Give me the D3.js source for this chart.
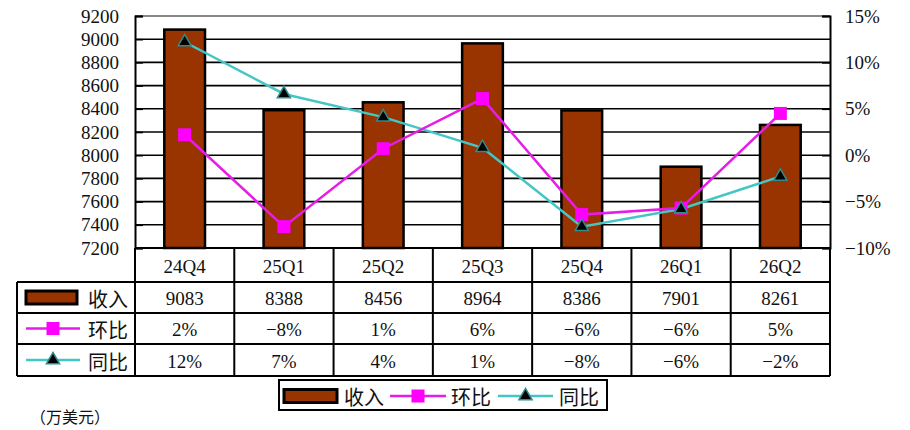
<!DOCTYPE html>
<html>
<head>
<meta charset="utf-8">
<script src="https://cdn.jsdelivr.net/npm/d3@7"></script>
<style>
    body { margin: 0; background: #fff; }
    text { font-family: "Liberation Serif", "Noto Sans CJK SC", serif; fill: #111; }
    .cjk { font-family: "Noto Sans CJK SC", sans-serif; }
</style>
</head>
<body>
<div id="chart"></div>
<script>
"use strict";

// Data
var quarters = ["24Q4", "25Q1", "25Q2", "25Q3", "25Q4", "26Q1", "26Q2"];
var revenue = [9083, 8388, 8456, 8964, 8386, 7901, 8261];
var qoq = [2.2, -7.7, 0.7, 6.1, -6.4, -5.7, 4.5];     // 环比 (%)
var yoy = [12.2, 6.6, 4.1, 0.8, -7.7, -5.8, -2.3];    // 同比 (%)
var leftTicks = [7200, 7400, 7600, 7800, 8000, 8200, 8400, 8600, 8800, 9000, 9200];
var rightTicks = [-10, -5, 0, 5, 10, 15];

const BAR_COLOR = "#993300";
const QOQ_COLOR = "#FF00FF";
const QOQ_LINE = "#E81CE8";
const YOY_LINE = "#45C6C6";
const YOY_EDGE = "#2E8C8C";

function renderChart(){

    var W = 910, H = 430;
    var plot = { left: 135, right: 830, top: 16, bottom: 248 };
    var rows = [248, 282, 313, 344, 376];
    var tableLeft = 17;

    var svg = d3.select("#chart").append("svg")
        .attr("width", W)
        .attr("height", H);

    // Scales
    var xScale = d3.scaleBand().domain(quarters).range([plot.left, plot.right]);
    var yLeft = d3.scaleLinear().domain([7200, 9200]).range([plot.bottom, plot.top]);
    var yRight = d3.scaleLinear().domain([-10, 15]).range([plot.bottom, plot.top]);
    var pct = d3.format(".0f");

    // Gridlines
    svg.append("g").selectAll("line")
        .data(leftTicks.filter(function(d){ return d > 7200; }))
        .enter().append("line")
        .attr("x1", plot.left).attr("x2", plot.right)
        .attr("y1", function(d){ return yLeft(d); })
        .attr("y2", function(d){ return yLeft(d); })
        .attr("stroke", function(d){ return d === 9200 ? "#888" : "#000"; })
        .attr("stroke-width", function(d){ return d === 9200 ? 2 : 1.6; });

    // Left axis
    var yAxisL = d3.axisLeft(yLeft).tickValues(leftTicks).tickSize(-8).tickPadding(16).tickFormat(d3.format("d"));
    var gL = svg.append("g").attr("transform", "translate(" + plot.left + ",0)").call(yAxisL);
    gL.select(".domain").attr("stroke", "#000").attr("stroke-width", 2);
    gL.selectAll(".tick line").attr("stroke", "#000").attr("stroke-width", 1.6);
    gL.selectAll("text").attr("font-size", 19).attr("fill", "#111")
        .attr("font-family", "Liberation Serif, serif");

    // Right axis
    var yAxisR = d3.axisRight(yRight).tickValues(rightTicks).tickSize(-8).tickPadding(15)
        .tickFormat(function(d){ return pct(d) + "%"; });
    var gR = svg.append("g").attr("transform", "translate(" + plot.right + ",0)").call(yAxisR);
    gR.select(".domain").attr("stroke", "#000").attr("stroke-width", 2);
    gR.selectAll(".tick line").attr("stroke", "#000").attr("stroke-width", 1.6);
    gR.selectAll("text").attr("font-size", 19).attr("fill", "#111")
        .attr("font-family", "Liberation Serif, serif");

    // Bars
    var barW = xScale.bandwidth() * 0.41;
    svg.append("g").selectAll("rect")
        .data(revenue)
        .enter().append("rect")
        .attr("x", function(d, i){ return xScale(quarters[i]) + xScale.bandwidth()/2 - barW/2; })
        .attr("y", function(d){ return yLeft(d); })
        .attr("width", barW)
        .attr("height", function(d){ return plot.bottom - yLeft(d); })
        .attr("fill", BAR_COLOR)
        .attr("stroke", "#000")
        .attr("stroke-width", 2.5);

    var cx = function(d, i){ return xScale(quarters[i]) + xScale.bandwidth()/2; };

    // 同比 line
    var yoyLine = d3.line().x(cx).y(function(d){ return yRight(d); });
    svg.append("path").datum(yoy)
        .attr("d", yoyLine)
        .attr("fill", "none")
        .attr("stroke", YOY_LINE)
        .attr("stroke-width", 2.5);

    // 环比 line
    var qoqLine = d3.line().x(cx).y(function(d){ return yRight(d); });
    svg.append("path").datum(qoq)
        .attr("d", qoqLine)
        .attr("fill", "none")
        .attr("stroke", QOQ_LINE)
        .attr("stroke-width", 2.5);

    var square = d3.symbol().type(d3.symbolSquare).size(169);
    var triangle = d3.symbol().type(d3.symbolTriangle).size(75);

    svg.append("g").selectAll("path")
        .data(qoq)
        .enter().append("path")
        .attr("d", square)
        .attr("transform", function(d, i){ return "translate(" + cx(d, i) + "," + yRight(d) + ")"; })
        .attr("fill", QOQ_COLOR);

    svg.append("g").selectAll("path")
        .data(yoy)
        .enter().append("path")
        .attr("d", triangle)
        .attr("transform", function(d, i){ return "translate(" + cx(d, i) + "," + yRight(d) + ")"; })
        .attr("fill", "#000")
        .attr("stroke", YOY_EDGE)
        .attr("stroke-width", 1.5);

    // -----------------------------------------------------------------------
    // ---------------------------- Data table -------------------------------
    // -----------------------------------------------------------------------
    var table = svg.append("g");

    // horizontal lines
    rows.forEach(function(y, k){
        table.append("line")
            .attr("x1", k === 0 ? plot.left : tableLeft).attr("x2", plot.right)
            .attr("y1", y).attr("y2", y)
            .attr("stroke", "#000").attr("stroke-width", 2);
    });

    // vertical lines
    var bounds = quarters.map(function(q){ return xScale(q); }).concat([plot.right]);
    bounds.forEach(function(x){
        table.append("line")
            .attr("x1", x).attr("x2", x)
            .attr("y1", rows[0]).attr("y2", rows[4])
            .attr("stroke", "#000").attr("stroke-width", 2);
    });
    table.append("line")
        .attr("x1", tableLeft).attr("x2", tableLeft)
        .attr("y1", rows[1]).attr("y2", rows[4])
        .attr("stroke", "#000").attr("stroke-width", 2);

    var rowText = [
        quarters,
        revenue.map(function(d){ return String(d); }),
        qoq.map(function(d){ return pct(d) + "%"; }),
        yoy.map(function(d){ return pct(d) + "%"; })
    ];
    rowText.forEach(function(vals, r){
        table.append("g").selectAll("text")
            .data(vals)
            .enter().append("text")
            .attr("x", function(d, i){ return xScale(quarters[i]) + xScale.bandwidth()/2; })
            .attr("y", (rows[r] + rows[r + 1]) / 2 + 1)
            .attr("text-anchor", "middle")
            .attr("dominant-baseline", "central")
            .attr("font-size", 19)
            .text(function(d){ return d; });
    });

    // row keys
    function drawKey(g, kind, x0, x1, y){
        var mid = (x0 + x1) / 2;
        if(kind === "bar"){
            g.append("rect")
                .attr("x", x0).attr("y", y - 6.5)
                .attr("width", x1 - x0).attr("height", 13)
                .attr("fill", BAR_COLOR).attr("stroke", "#000").attr("stroke-width", 3);
        }else if(kind === "qoq"){
            g.append("line").attr("x1", x0).attr("x2", x1).attr("y1", y).attr("y2", y)
                .attr("stroke", QOQ_LINE).attr("stroke-width", 2.5);
            g.append("path").attr("d", square)
                .attr("transform", "translate(" + mid + "," + y + ")")
                .attr("fill", QOQ_COLOR);
        }else{
            g.append("line").attr("x1", x0).attr("x2", x1).attr("y1", y).attr("y2", y)
                .attr("stroke", YOY_LINE).attr("stroke-width", 2.5);
            g.append("path").attr("d", triangle)
                .attr("transform", "translate(" + mid + "," + y + ")")
                .attr("fill", "#000").attr("stroke", YOY_EDGE).attr("stroke-width", 1.5);
        }
    }

    var seriesNames = ["收入", "环比", "同比"];
    var kinds = ["bar", "qoq", "yoy"];
    seriesNames.forEach(function(name, k){
        var y = (rows[k + 1] + rows[k + 2]) / 2;
        if(k === 0){
            drawKey(table, kinds[k], 26, 77, y);
        }else{
            drawKey(table, kinds[k], 26, 80, y);
        }
        table.append("text")
            .attr("class", "cjk")
            .attr("x", 88)
            .attr("y", y + 1)
            .attr("dominant-baseline", "central")
            .attr("font-size", 20)
            .text(name);
    });

    // -----------------------------------------------------------------------
    // ------------------------------ Legend ---------------------------------
    // -----------------------------------------------------------------------
    var legend = svg.append("g");
    legend.append("rect")
        .attr("x", 279).attr("y", 380)
        .attr("width", 328).attr("height", 30)
        .attr("fill", "#fff").attr("stroke", "#000").attr("stroke-width", 2);

    var legendY = 396;
    var legendItems = [
        { kind: "bar", x0: 284, x1: 337, tx: 344 },
        { kind: "qoq", x0: 390, x1: 446, tx: 451 },
        { kind: "yoy", x0: 498, x1: 553, tx: 559 }
    ];
    legendItems.forEach(function(item, k){
        drawKey(legend, item.kind, item.x0, item.x1, legendY);
        legend.append("text")
            .attr("class", "cjk")
            .attr("x", item.tx)
            .attr("y", legendY)
            .attr("dominant-baseline", "central")
            .attr("font-size", 20)
            .text(seriesNames[k]);
    });

    // unit note
    svg.append("text")
        .attr("class", "cjk")
        .attr("x", 30)
        .attr("y", 416)
        .attr("dominant-baseline", "central")
        .attr("font-size", 16)
        .text("（万美元）");
}

renderChart();
</script>
</body>
</html>
